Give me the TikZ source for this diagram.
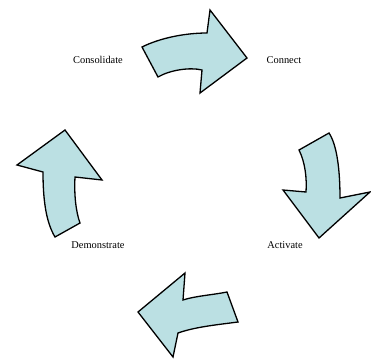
\documentclass[tikz,border=0pt]{standalone}
\usepackage{fontspec}
\setmainfont{Liberation Serif}
\definecolor{arrowfill}{RGB}{187,224,227}

\begin{document}
\begin{tikzpicture}[x=1pt,y=-1pt,line join=miter]
  \tikzset{bentarrow/.style={draw=black,fill=arrowfill,line width=1.3pt},
           steplabel/.style={font=\fontsize{10.4}{12}\selectfont,inner sep=0pt}}
  \useasboundingbox (0,0) rectangle (371,361);
  % arrows
  \path[bentarrow] (142,47) .. controls (160,38) and (185,33) .. (207,33) -- (210,10) -- (247,58)
    -- (200,93) -- (202,70) .. controls (190,67) and (170,70) .. (158,77) -- cycle;
  \path[bentarrow] (329,133) .. controls (337,145) and (340,170) .. (340,198) -- (370,192) -- (319,238)
    -- (283,190) -- (306,192) .. controls (307,178) and (305,162) .. (299,150) -- cycle;
  \path[bentarrow] (227,292) .. controls (212,295) and (195,296) .. (183,300) -- (185,273) -- (138,312)
    -- (173,357) -- (178,333) .. controls (195,327) and (215,325) .. (238,322) -- cycle;
  \path[bentarrow] (55,237) .. controls (46,222) and (43,200) .. (43,172) -- (17,165) -- (65,130)
    -- (102,180) -- (75,177) .. controls (74,195) and (76,212) .. (80,223) -- cycle;
  % labels
  \node[steplabel] (consolidate) at (98,60)  {Consolidate};
  \node[steplabel] (connect)     at (284,60) {Connect};
  \node[steplabel] (activate)    at (285,245) {Activate};
  \node[steplabel] (demonstrate) at (98,245) {Demonstrate};
\end{tikzpicture}
\end{document}
